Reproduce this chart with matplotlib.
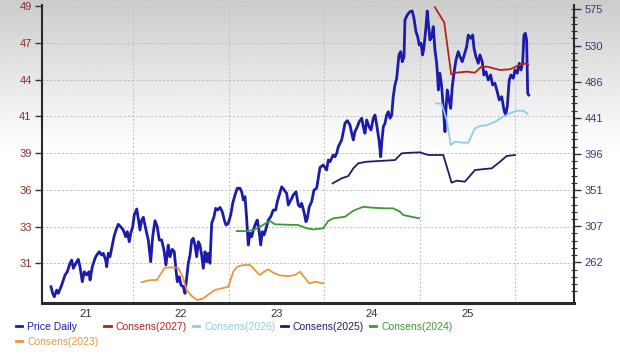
import numpy as np
import matplotlib
matplotlib.use("Agg")
import matplotlib.pyplot as plt
from matplotlib.lines import Line2D

plt.rcParams['font.family'] = ['Liberation Sans', 'DejaVu Sans']

# ---------------- data ----------------
price_dates = [2020.638, 2020.656, 2020.673, 2020.698, 2020.715, 2020.750, 2020.785, 2020.809, 2020.837, 2020.855,
               2020.872, 2020.907, 2020.924, 2020.942, 2020.966, 2020.987, 2021.012, 2021.036, 2021.047, 2021.071,
               2021.099, 2021.117, 2021.144, 2021.169, 2021.186, 2021.211, 2021.221, 2021.238, 2021.256, 2021.274,
               2021.298, 2021.319, 2021.343, 2021.368, 2021.395, 2021.420, 2021.437, 2021.458, 2021.473, 2021.494,
               2021.510, 2021.536, 2021.552, 2021.570, 2021.588, 2021.605, 2021.633, 2021.657, 2021.682, 2021.703,
               2021.727, 2021.751, 2021.772, 2021.797, 2021.821, 2021.842, 2021.866, 2021.884, 2021.908, 2021.929,
               2021.947, 2021.961, 2021.982, 2021.999, 2022.024, 2022.041, 2022.059, 2022.076, 2022.094, 2022.112,
               2022.128, 2022.146, 2022.164, 2022.181, 2022.198, 2022.216, 2022.233, 2022.251, 2022.269, 2022.285,
               2022.303, 2022.321, 2022.345, 2022.363, 2022.384, 2022.408, 2022.432, 2022.453, 2022.471, 2022.495,
               2022.520, 2022.541, 2022.565, 2022.589, 2022.617, 2022.635, 2022.652, 2022.670, 2022.687, 2022.704,
               2022.722, 2022.740, 2022.757, 2022.782, 2022.798, 2022.816, 2022.834, 2022.851, 2022.869, 2022.886,
               2022.914, 2022.939, 2022.966, 2022.991, 2023.008, 2023.029, 2023.054, 2023.081, 2023.106, 2023.123,
               2023.159, 2023.175, 2023.204, 2023.228, 2023.246, 2023.263, 2023.287, 2023.308, 2023.322, 2023.343,
               2023.368, 2023.392, 2023.420, 2023.437, 2023.455, 2023.489, 2023.525, 2023.542, 2023.560, 2023.594,
               2023.612, 2023.630, 2023.647, 2023.664, 2023.682, 2023.699, 2023.717, 2023.741, 2023.769, 2023.787,
               2023.804, 2023.821, 2023.846, 2023.866, 2023.892, 2023.908, 2023.926, 2023.944, 2023.968, 2023.989,
               2024.013, 2024.031, 2024.049, 2024.073, 2024.091, 2024.101, 2024.118, 2024.136, 2024.153, 2024.170,
               2024.188, 2024.206, 2024.222, 2024.240, 2024.258, 2024.282, 2024.300, 2024.317, 2024.335, 2024.345,
               2024.369, 2024.397, 2024.421, 2024.439, 2024.460, 2024.478, 2024.495, 2024.513, 2024.530, 2024.544,
               2024.562, 2024.578, 2024.593, 2024.607, 2024.625, 2024.641, 2024.659, 2024.677, 2024.687, 2024.694,
               2024.711, 2024.729, 2024.746, 2024.764, 2024.774, 2024.788, 2024.806, 2024.824, 2024.840, 2024.858,
               2024.879, 2024.903, 2024.921, 2024.945, 2024.966, 2024.991, 2025.008, 2025.033, 2025.054, 2025.068,
               2025.088, 2025.113, 2025.130, 2025.154, 2025.172, 2025.193, 2025.217, 2025.242, 2025.263, 2025.287,
               2025.311, 2025.332, 2025.358, 2025.382, 2025.399, 2025.416, 2025.437, 2025.455, 2025.479, 2025.497,
               2025.521, 2025.542, 2025.560, 2025.577, 2025.591, 2025.605, 2025.619, 2025.630, 2025.640]
price_values = [231.8, 223.6, 219.4, 227.7, 223.6, 233.9, 246.3, 250.4, 260.8, 264.8,
                254.6, 262.7, 265.7, 256.6, 238.0, 250.4, 246.3, 250.4, 240.1, 256.6,
                266.9, 271.0, 275.1, 271.0, 273.1, 264.8, 256.6, 273.1, 268.9, 279.3,
                293.7, 302.0, 309.0, 306.0, 302.0, 293.7, 299.9, 287.5, 297.9, 306.0,
                320.5, 327.9, 316.4, 302.0, 314.3, 317.7, 302.0, 289.6, 262.7, 293.7,
                313.5, 306.0, 289.6, 289.6, 277.2, 258.7, 283.4, 268.9, 278.1, 275.1,
                252.5, 238.0, 244.2, 233.9, 231.8, 223.6, 242.2, 260.8, 271.0, 289.6,
                291.7, 283.4, 268.9, 287.5, 283.4, 271.0, 254.6, 275.1, 262.7, 273.1,
                260.8, 310.3, 318.4, 328.8, 326.7, 330.0, 324.6, 314.3, 308.1, 310.3,
                320.5, 335.0, 345.3, 353.6, 353.6, 349.3, 339.1, 343.2, 316.4, 283.4,
                297.9, 293.7, 302.0, 310.3, 314.3, 302.0, 283.4, 299.9, 295.8, 302.0,
                314.3, 318.4, 326.7, 326.7, 337.0, 345.3, 355.5, 351.4, 347.4, 332.9,
                341.2, 345.3, 349.3, 332.9, 330.8, 335.0, 324.6, 312.2, 316.4, 330.8,
                337.0, 351.4, 353.6, 365.9, 379.3, 382.4, 376.2, 388.6, 386.5, 394.8,
                392.6, 396.9, 405.0, 409.2, 413.3, 423.6, 434.0, 437.2, 431.9, 421.6,
                413.3, 423.6, 429.8, 436.0, 440.2, 429.8, 421.6, 438.1, 429.8, 425.7,
                440.2, 444.2, 431.9, 413.3, 392.6, 409.2, 429.8, 434.0, 444.2, 448.3,
                440.2, 444.2, 466.9, 481.4, 489.6, 518.5, 522.6, 510.2, 516.4, 561.8,
                568.0, 572.0, 572.9, 563.9, 547.3, 541.1, 530.8, 533.0, 518.5, 528.7,
                549.4, 572.9, 553.5, 537.0, 541.1, 553.5, 524.7, 508.2, 491.6, 475.2,
                495.8, 479.3, 454.5, 423.6, 450.4, 475.2, 462.8, 452.5, 479.3, 495.8,
                512.3, 522.6, 516.4, 510.2, 518.5, 528.7, 543.2, 539.1, 543.2, 526.8,
                516.4, 508.2, 518.5, 510.2, 493.7, 497.8, 487.5, 493.7, 481.4, 483.5,
                473.1, 462.8, 466.9, 450.4, 444.2, 454.5, 487.5, 493.7, 489.6, 499.9,
                495.8, 508.2, 499.9, 508.2, 543.2, 545.3, 537.0, 471.1, 469.0]

c2027_dates = [2024.659, 2024.756, 2024.829, 2024.886, 2024.991, 2025.078, 2025.141, 2025.204, 2025.270,
               2025.340, 2025.444, 2025.549, 2025.619, 2025.636]
c2027_vals = [49.09, 48.02, 44.31, 44.44, 44.51, 44.44, 44.84, 44.87, 44.75, 44.63, 44.68, 44.99, 45.11, 44.99]

c2026_dates = [2024.670, 2024.729, 2024.782, 2024.824, 2024.869, 2024.939, 2025.008, 2025.078, 2025.130,
               2025.200, 2025.287, 2025.374, 2025.444, 2025.515, 2025.584, 2025.630]
c2026_vals = [42.26, 42.21, 41.07, 39.28, 39.52, 39.45, 39.45, 40.47, 40.64, 40.69, 40.94, 41.30, 41.54,
              41.73, 41.73, 41.49]

c2025_dates = [2023.588, 2023.682, 2023.751, 2023.804, 2023.856, 2023.944, 2024.118, 2024.240, 2024.310,
               2024.397, 2024.502, 2024.589, 2024.746, 2024.833, 2024.886, 2024.973, 2025.078, 2025.148,
               2025.253, 2025.340, 2025.410, 2025.497]
c2025_vals = [36.55, 36.91, 37.07, 37.62, 37.98, 38.09, 38.16, 38.21, 38.69, 38.73, 38.76, 38.57, 38.57,
              36.60, 36.74, 36.67, 37.50, 37.55, 37.62, 38.09, 38.50, 38.57]

c2024_dates = [2022.583, 2022.687, 2022.757, 2022.827, 2022.897, 2022.931, 2022.984, 2023.228, 2023.316,
               2023.385, 2023.489, 2023.542, 2023.594, 2023.717, 2023.804, 2023.908, 2024.013, 2024.153,
               2024.222, 2024.293, 2024.327, 2024.492]
c2024_vals = [33.15, 33.15, 33.22, 33.46, 33.74, 33.87, 33.63, 33.58, 33.35, 33.27, 33.35, 33.87, 34.06,
              34.17, 34.60, 34.88, 34.81, 34.77, 34.77, 34.53, 34.29, 34.06]

c2023_dates = [2021.588, 2021.640, 2021.693, 2021.745, 2021.787, 2021.832, 2021.902, 2021.971, 2022.017,
               2022.059, 2022.112, 2022.170, 2022.233, 2022.303, 2022.355, 2022.426, 2022.495, 2022.547,
               2022.589, 2022.652, 2022.722, 2022.774, 2022.827, 2022.869, 2022.914, 2022.966, 2023.036,
               2023.123, 2023.193, 2023.246, 2023.287, 2023.343, 2023.403, 2023.489]
c2023_vals = [29.50, 29.61, 29.66, 29.66, 30.09, 30.54, 30.56, 30.54, 29.89, 28.95, 28.52, 28.23, 28.35,
              28.71, 28.95, 29.07, 29.18, 30.25, 30.61, 30.73, 30.73, 30.37, 30.02, 30.25, 30.42, 30.18,
              29.99, 29.94, 30.02, 30.25, 29.89, 29.42, 29.54, 29.42]

x_tick_years = [2021, 2022, 2023, 2024, 2025]
x_tick_labels = ['21', '22', '23', '24', '25']
left_tick_pos = [30.85, 33.47, 36.09, 38.71, 41.33, 43.95, 46.57, 49.19]
left_tick_labels = ['31', '33', '36', '39', '41', '44', '47', '49']
right_tick_pos = [262, 306.7, 351.4, 396.1, 440.8, 485.5, 530.2, 574.9]
right_tick_labels = ['262', '307', '351', '396', '441', '486', '530', '575']

series_names = ['Price Daily', 'Consens(2027)', 'Consens(2026)', 'Consens(2025)',
                'Consens(2024)', 'Consens(2023)']

# ---------------- styles ----------------
c_price = '#1c1caa'
c_2027 = '#b5221c'
c_2026 = '#8ccfe0'
c_2025 = '#1e1e66'
c_2024 = '#3a9a34'
c_2023 = '#e8973a'
colors = [c_price, c_2027, c_2026, c_2025, c_2024, c_2023]

W, H = 620, 361
fig = plt.figure(figsize=(W / 100, H / 100), dpi=100)
fig.patch.set_facecolor('white')

# background gradient
bg = fig.add_axes([0, 0, 1, 1], zorder=-10)
rows = np.ones((H, 1))
top_gray = 0.80
fade = 150
for r in range(fade):
    rows[r, 0] = top_gray + (1 - top_gray) * r / fade
bg.imshow(rows, cmap='gray', vmin=0, vmax=1, aspect='auto', extent=[0, 1, 0, 1], interpolation='bilinear')
bg.axis('off')

rect = [42 / W, 1 - 302.5 / H, (574 - 42) / W, (302.5 - 5) / H]
xlim = (2020.544, 2026.115)
eps_lim = (28.06, 49.26)
price_lim = (212.3, 580.3)

# grid axes
axg = fig.add_axes(rect, zorder=0)
axg.set_facecolor('none')
axg.set_xlim(*xlim)
axg.set_ylim(*eps_lim)
for yv in left_tick_pos:
    axg.axhline(yv, color='#bdbdbd', lw=0.7, ls=(0, (2, 2)))
for xv in [2021.5, 2022.5, 2023.5, 2024.5, 2025.5]:
    axg.axvline(xv, color='#bdbdbd', lw=0.7, ls=(0, (2, 2)))
axg.set_xticks([])
axg.set_yticks([])
for s in axg.spines.values():
    s.set_visible(False)

# price axes (right)
axp = fig.add_axes(rect, zorder=1)
axp.set_facecolor('none')
axp.plot(price_dates, price_values, color=c_price, lw=2.0, solid_joinstyle='round')
axp.set_xlim(*xlim)
axp.set_ylim(*price_lim)
axp.yaxis.tick_right()
axp.set_yticks(right_tick_pos)
axp.set_yticklabels(right_tick_labels)
axp.set_yticks([p + k * 8.94 for p in right_tick_pos[:-1] for k in range(1, 5)] +
               [262 - k * 8.94 for k in range(1, 5)] + [574.9 + 0.5], minor=True)
axp.tick_params(axis='y', which='major', direction='out', length=5, width=1, pad=2.5,
                labelsize=8, labelcolor='#3a3a7a', color='#333333')
axp.tick_params(axis='y', which='minor', direction='inout', length=4, width=0.8, color='#333333')
axp.set_xticks([])
for s in ['left', 'top']:
    axp.spines[s].set_visible(False)
axp.spines['right'].set_linewidth(1.5)
axp.spines['right'].set_color('#2a2a2a')
axp.spines['bottom'].set_linewidth(2.2)
axp.spines['bottom'].set_color('#2a2a2a')

# EPS axes (left)
axe = fig.add_axes(rect, zorder=2)
axe.set_facecolor('none')
axe.plot(c2023_dates, c2023_vals, color=c_2023, lw=1.3)
axe.plot(c2024_dates, c2024_vals, color=c_2024, lw=1.3)
axe.plot(c2025_dates, c2025_vals, color=c_2025, lw=1.3)
axe.plot(c2026_dates, c2026_vals, color=c_2026, lw=1.3)
axe.plot(c2027_dates, c2027_vals, color=c_2027, lw=1.3)
axe.set_xlim(*xlim)
axe.set_ylim(*eps_lim)
axe.set_yticks(left_tick_pos)
axe.set_yticklabels(left_tick_labels)
axe.tick_params(axis='y', direction='out', length=5, width=1, pad=2.5, labelsize=8,
                labelcolor='#8e2a2a', color='#333333')
axe.set_xticks(x_tick_years)
axe.set_xticklabels(x_tick_labels)
axe.tick_params(axis='x', length=0, pad=5, labelsize=8, labelcolor='#333333')
for s in ['right', 'top', 'bottom']:
    axe.spines[s].set_visible(False)
axe.spines['left'].set_linewidth(1.5)
axe.spines['left'].set_color('#2a2a2a')

# legend (reordered so that column-major filling reads row by row)
order = [0, 5, 1, 2, 3, 4]
handles = [Line2D([0], [0], color=colors[i], lw=2) for i in order]
labels = [series_names[i] for i in order]
leg = fig.legend(handles, labels, loc='upper left', bbox_to_anchor=(16 / W, 1 - 322 / H),
                 ncol=5, frameon=False, fontsize=7.5, handlelength=0.6, handletextpad=0.5,
                 columnspacing=0.55, labelspacing=0.45, borderpad=0, borderaxespad=0)
for t, i in zip(leg.get_texts(), order):
    t.set_color(colors[i])

fig.savefig('out.png', dpi=100)
